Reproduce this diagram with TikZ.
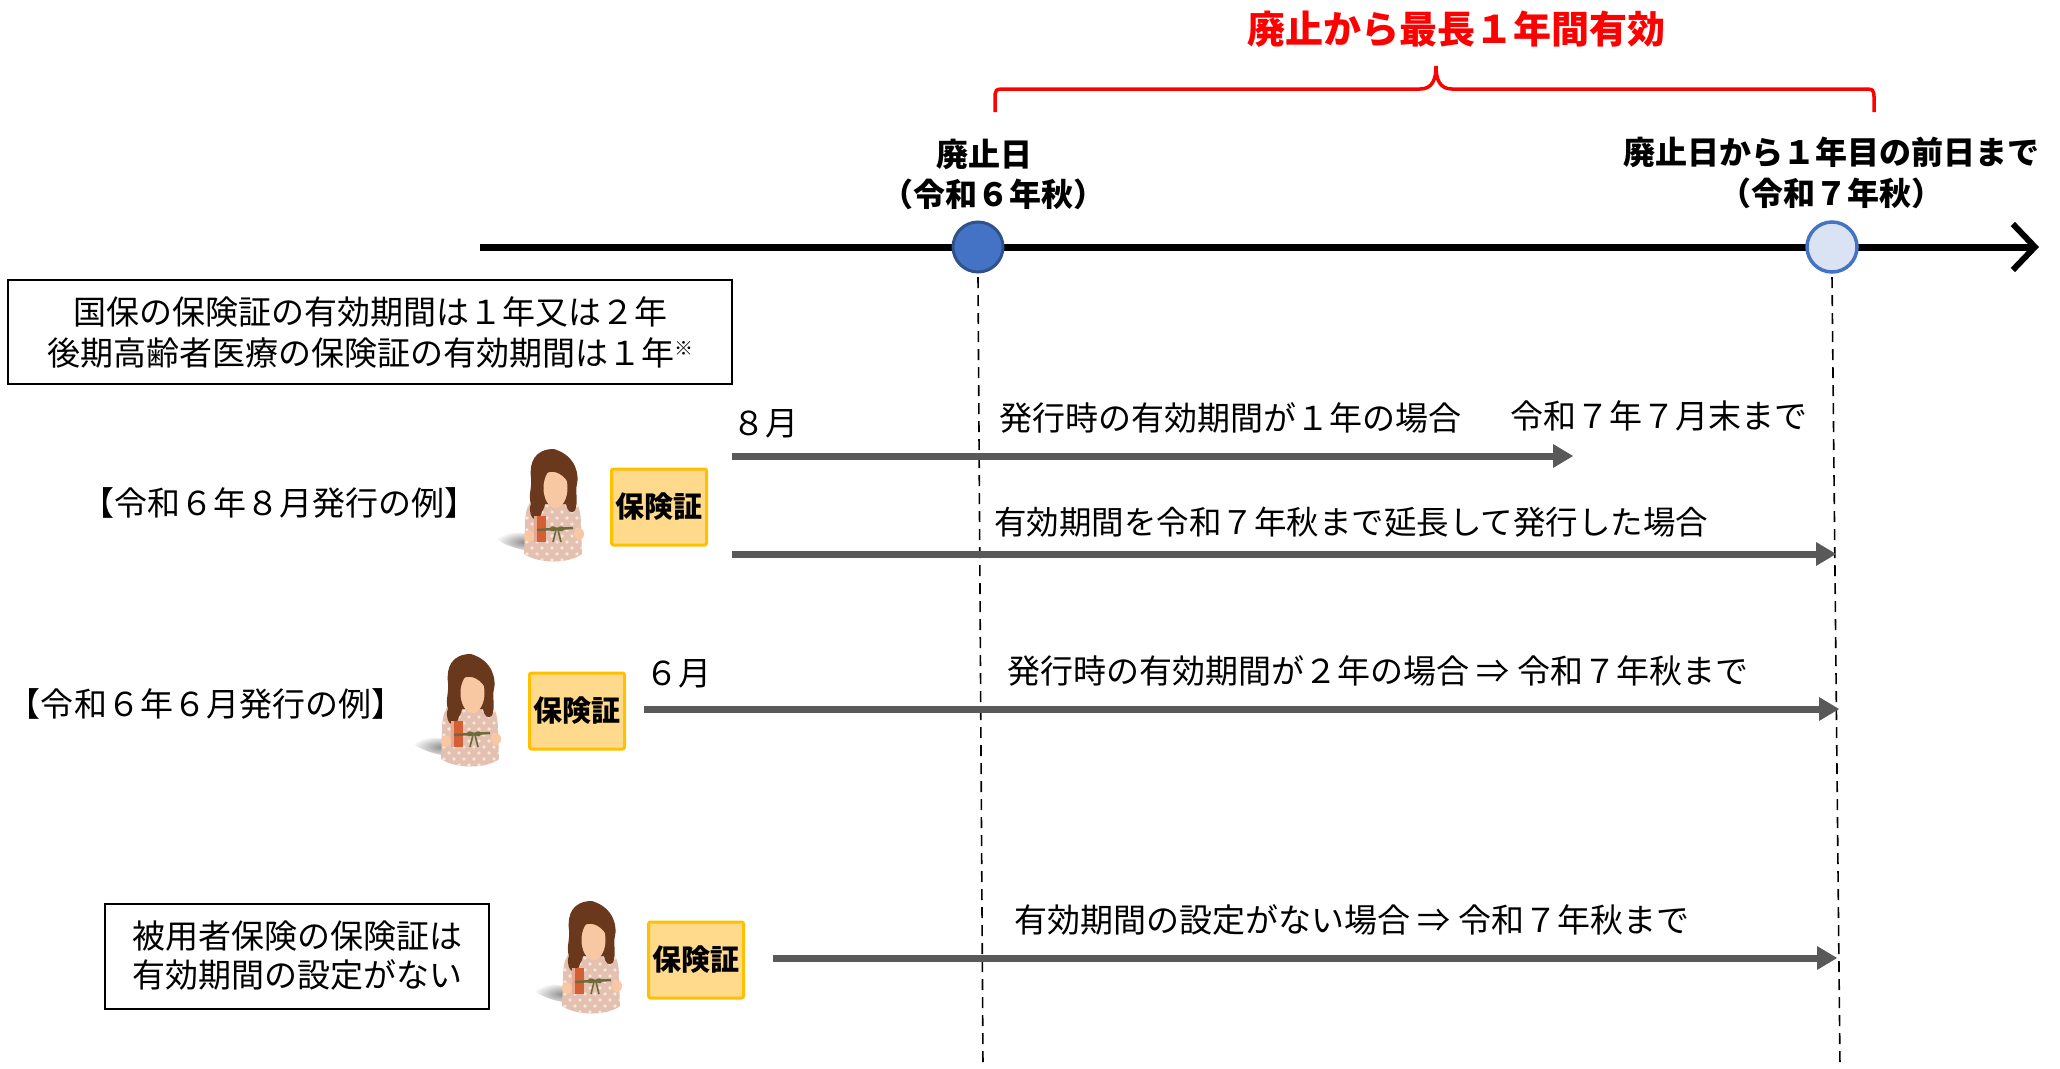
\documentclass[tikz,border=0pt]{standalone}
\usepackage{fontspec}
\setmainfont{Noto Sans CJK JP}
\usepackage{tikz}
\usetikzlibrary{arrows.meta}

\definecolor{flowgray}{HTML}{595959}
\definecolor{pinblue}{HTML}{4472C4}
\definecolor{pinedge}{HTML}{2F528F}
\definecolor{paleblue}{HTML}{DAE3F3}
\definecolor{cardfill}{HTML}{FFD98C}
\definecolor{cardedge}{HTML}{FFC000}
\definecolor{hair}{HTML}{6A381C}
\definecolor{skin}{HTML}{F8C8A2}
\definecolor{dress}{HTML}{E4C0B0}
\definecolor{flower}{HTML}{F6E6DC}
\definecolor{belt}{HTML}{6E6A3C}
\definecolor{book}{HTML}{D45F35}

% little standing figure holding a book
\tikzset{
  woman/.pic={
    \shade[inner color=black!45, outer color=white, rotate around={-12:(-28,36)}]
      (-28,36) ellipse [x radius=30, y radius=8];
    \begin{scope}
      \clip (-15,-8) .. controls (-25,-6) and (-28,4) .. (-28,20) -- (-29,48)
        .. controls (-14,58) and (16,58) .. (29,48) -- (28,20)
        .. controls (28,4) and (25,-6) .. (16,-8) -- cycle;
      \fill[dress] (-40,-20) rectangle (40,60);
      \foreach \py in {0,12,24,36,48}
        \foreach \px in {-26,-16,...,28}
          \fill[flower] (\px,\py) circle (1.8);
      \foreach \py in {6,18,30,42,54}
        \foreach \px in {-21,-11,...,29}
          \fill[flower] (\px,\py) circle (1.8);
    \end{scope}
    % hair, with curls down to the shoulders
    \fill[hair] (1,-57) .. controls (-18,-57) and (-24,-44) .. (-22,-28)
      .. controls (-21,-18) and (-25,-10) .. (-22,-2)
      .. controls (-25,4) and (-22,14) .. (-16,14)
      .. controls (-12,12) and (-12,6) .. (-9,2) -- (-8,-2) -- (13,-2) -- (14,2)
      .. controls (16,8) and (23,8) .. (23,0)
      .. controls (25,-8) and (22,-14) .. (24,-22)
      .. controls (26,-30) and (24,-50) .. (1,-57) -- cycle;
    \fill[skin] (2.5,-18) ellipse [x radius=12, y radius=20];
    \fill[hair] (-11,-30) .. controls (-10,-46) and (6,-50) .. (15,-36) -- (15,-24)
      .. controls (8,-34) and (-2,-38) .. (-11,-30) -- cycle;
    % book, belt, hands
    \fill[book] (-19,10) rectangle (-7,36);
    \fill[book!55!white] (-19,10) rectangle (-16.5,36);
    \draw[belt, line width=2.5pt] (-16,24) -- (20,22);
    \draw[belt, line width=1.6pt] (4,23) .. controls (-4,17) and (-6,28) .. (4,23)
      .. controls (12,17) and (14,28) .. (4,23);
    \draw[belt, line width=1.6pt] (3,24) -- (0,36) (5,24) -- (8,36);
    \fill[skin] (-24,30) ellipse [x radius=5, y radius=6];
    \fill[skin] (26,28) ellipse [x radius=5, y radius=6];
  }
}

\begin{document}
\begin{tikzpicture}[x=1pt, y=-1pt,
  txt/.style={font=\fontsize{33}{40}\selectfont, inner sep=0pt},
  hd/.style={font=\bfseries\fontsize{32}{38}\selectfont, inner sep=0pt},
  note/.style={draw, line width=2pt, inner sep=0pt, align=center},
  card/.style={draw=cardedge, fill=cardfill, line width=3pt, rounded corners=2pt,
    minimum width=95pt, minimum height=76pt, inner sep=0pt,
    font=\bfseries\fontsize{29}{34}\selectfont},
  pin/.style={circle, minimum size=50pt, inner sep=0pt},
  flow/.style={flowgray, line width=7pt,
    -{Triangle[length=20pt, width=24pt, line width=0pt]}},
  guide/.style={line width=1.6pt, dash pattern=on 11pt off 7pt},
  span/.style={red, line width=3.5pt}]
  \useasboundingbox (0,0) rectangle (2060,1068);

  % period covered after the abolition
  \node[font=\bfseries\fontsize{38}{44}\selectfont, text=red, inner sep=0pt]
    (title) at (1456,29) {廃止から最長１年間有効};
  \draw[span] (995,112) -- (995,100) .. controls (995,89) .. (1007,89) -- (1420,89)
    .. controls (1432,89) and (1436,80) .. (1436,66)
    .. controls (1436,80) and (1440,89) .. (1452,89) -- (1862,89)
    .. controls (1874,89) .. (1874,100) -- (1874,112);

  \node[hd] (abolday) at (984,154) {廃止日};
  \node[hd] (abolyear) at (993,194) {（令和６年秋）};
  \node[hd] (lastday) at (1831,152) {廃止日から１年目の前日まで};
  \node[hd] (lastyear) at (1831,193) {（令和７年秋）};

  % time axis
  \coordinate (t0) at (480,247);
  \coordinate (t1) at (2039,247);
  \coordinate (g0) at (983,1068);
  \coordinate (g1) at (1840,1068);
  \node[pin] (abol) at (978,247) {};
  \node[pin] (expire) at (1832,247) {};
  \draw[guide] ([yshift=-5pt]abol.south) -- (g0);
  \draw[guide] ([yshift=-5pt]expire.south) -- (g1);
  \draw[line width=7pt, -{Straight Barb[length=22pt, width=46pt, line width=6pt]}] (t0) -- (t1);
  \node[pin, fill=pinblue, draw=pinedge, line width=3pt] at (abol) {};
  \node[pin, fill=paleblue, draw=pinblue, line width=3.5pt] at (expire) {};

  \node[note, minimum width=724pt, minimum height=104pt,
    font=\fontsize{33}{41}\selectfont] (kokuho) at (370,332)
    {国保の保険証の有効期間は１年又は２年\\
     後期高齢者医療の保険証の有効期間は１年\raisebox{0.55ex}{\fontsize{19}{19}\selectfont ※}};

  % issued in August
  \node[txt] (r1) at (279,503) {【令和６年８月発行の例】};
  \pic at (553,506) {woman};
  \node[card] (card1) at (659,507) {保険証};
  \node[txt] (aug) at (765,424) {８月};
  \coordinate (a1s) at (732,456);
  \coordinate (a1e) at (1573,456);
  \draw[flow] (a1s) -- (a1e);
  \node[txt] (oneyear) at (1230,418) {発行時の有効期間が１年の場合};
  \node[txt] (july) at (1659,416) {令和７年７月末まで};
  \coordinate (a2s) at (732,554);
  \coordinate (a2e) at (1836,554);
  \draw[flow] (a2s) -- (a2e);
  \node[txt, font=\fontsize{32.5}{40}\selectfont] (extend) at (1351,522)
    {有効期間を令和７年秋まで延長して発行した場合};

  % issued in June
  \node[txt] (r2) at (206,704) {【令和６年６月発行の例】};
  \pic at (470,711) {woman};
  \node[card] (card2) at (577,711) {保険証};
  \node[txt] (june) at (678,674) {６月};
  \coordinate (a3s) at (644,709);
  \coordinate (a3e) at (1839,709);
  \draw[flow] (a3s) -- (a3e);
  \node[txt] (twoyear) at (1378,671) {発行時の有効期間が２年の場合 ⇒ 令和７年秋まで};

  % employee insurance
  \node[note, minimum width=384pt, minimum height=105pt,
    font=\fontsize{33}{39}\selectfont] (employee) at (297,956)
    {被用者保険の保険証は\\有効期間の設定がない};
  \pic at (591,958) {woman};
  \node[card] (card3) at (696,960) {保険証};
  \coordinate (a4s) at (773,958);
  \coordinate (a4e) at (1837,958);
  \draw[flow] (a4s) -- (a4e);
  \node[txt] (noterm) at (1352,920) {有効期間の設定がない場合 ⇒ 令和７年秋まで};
\end{tikzpicture}
\end{document}
